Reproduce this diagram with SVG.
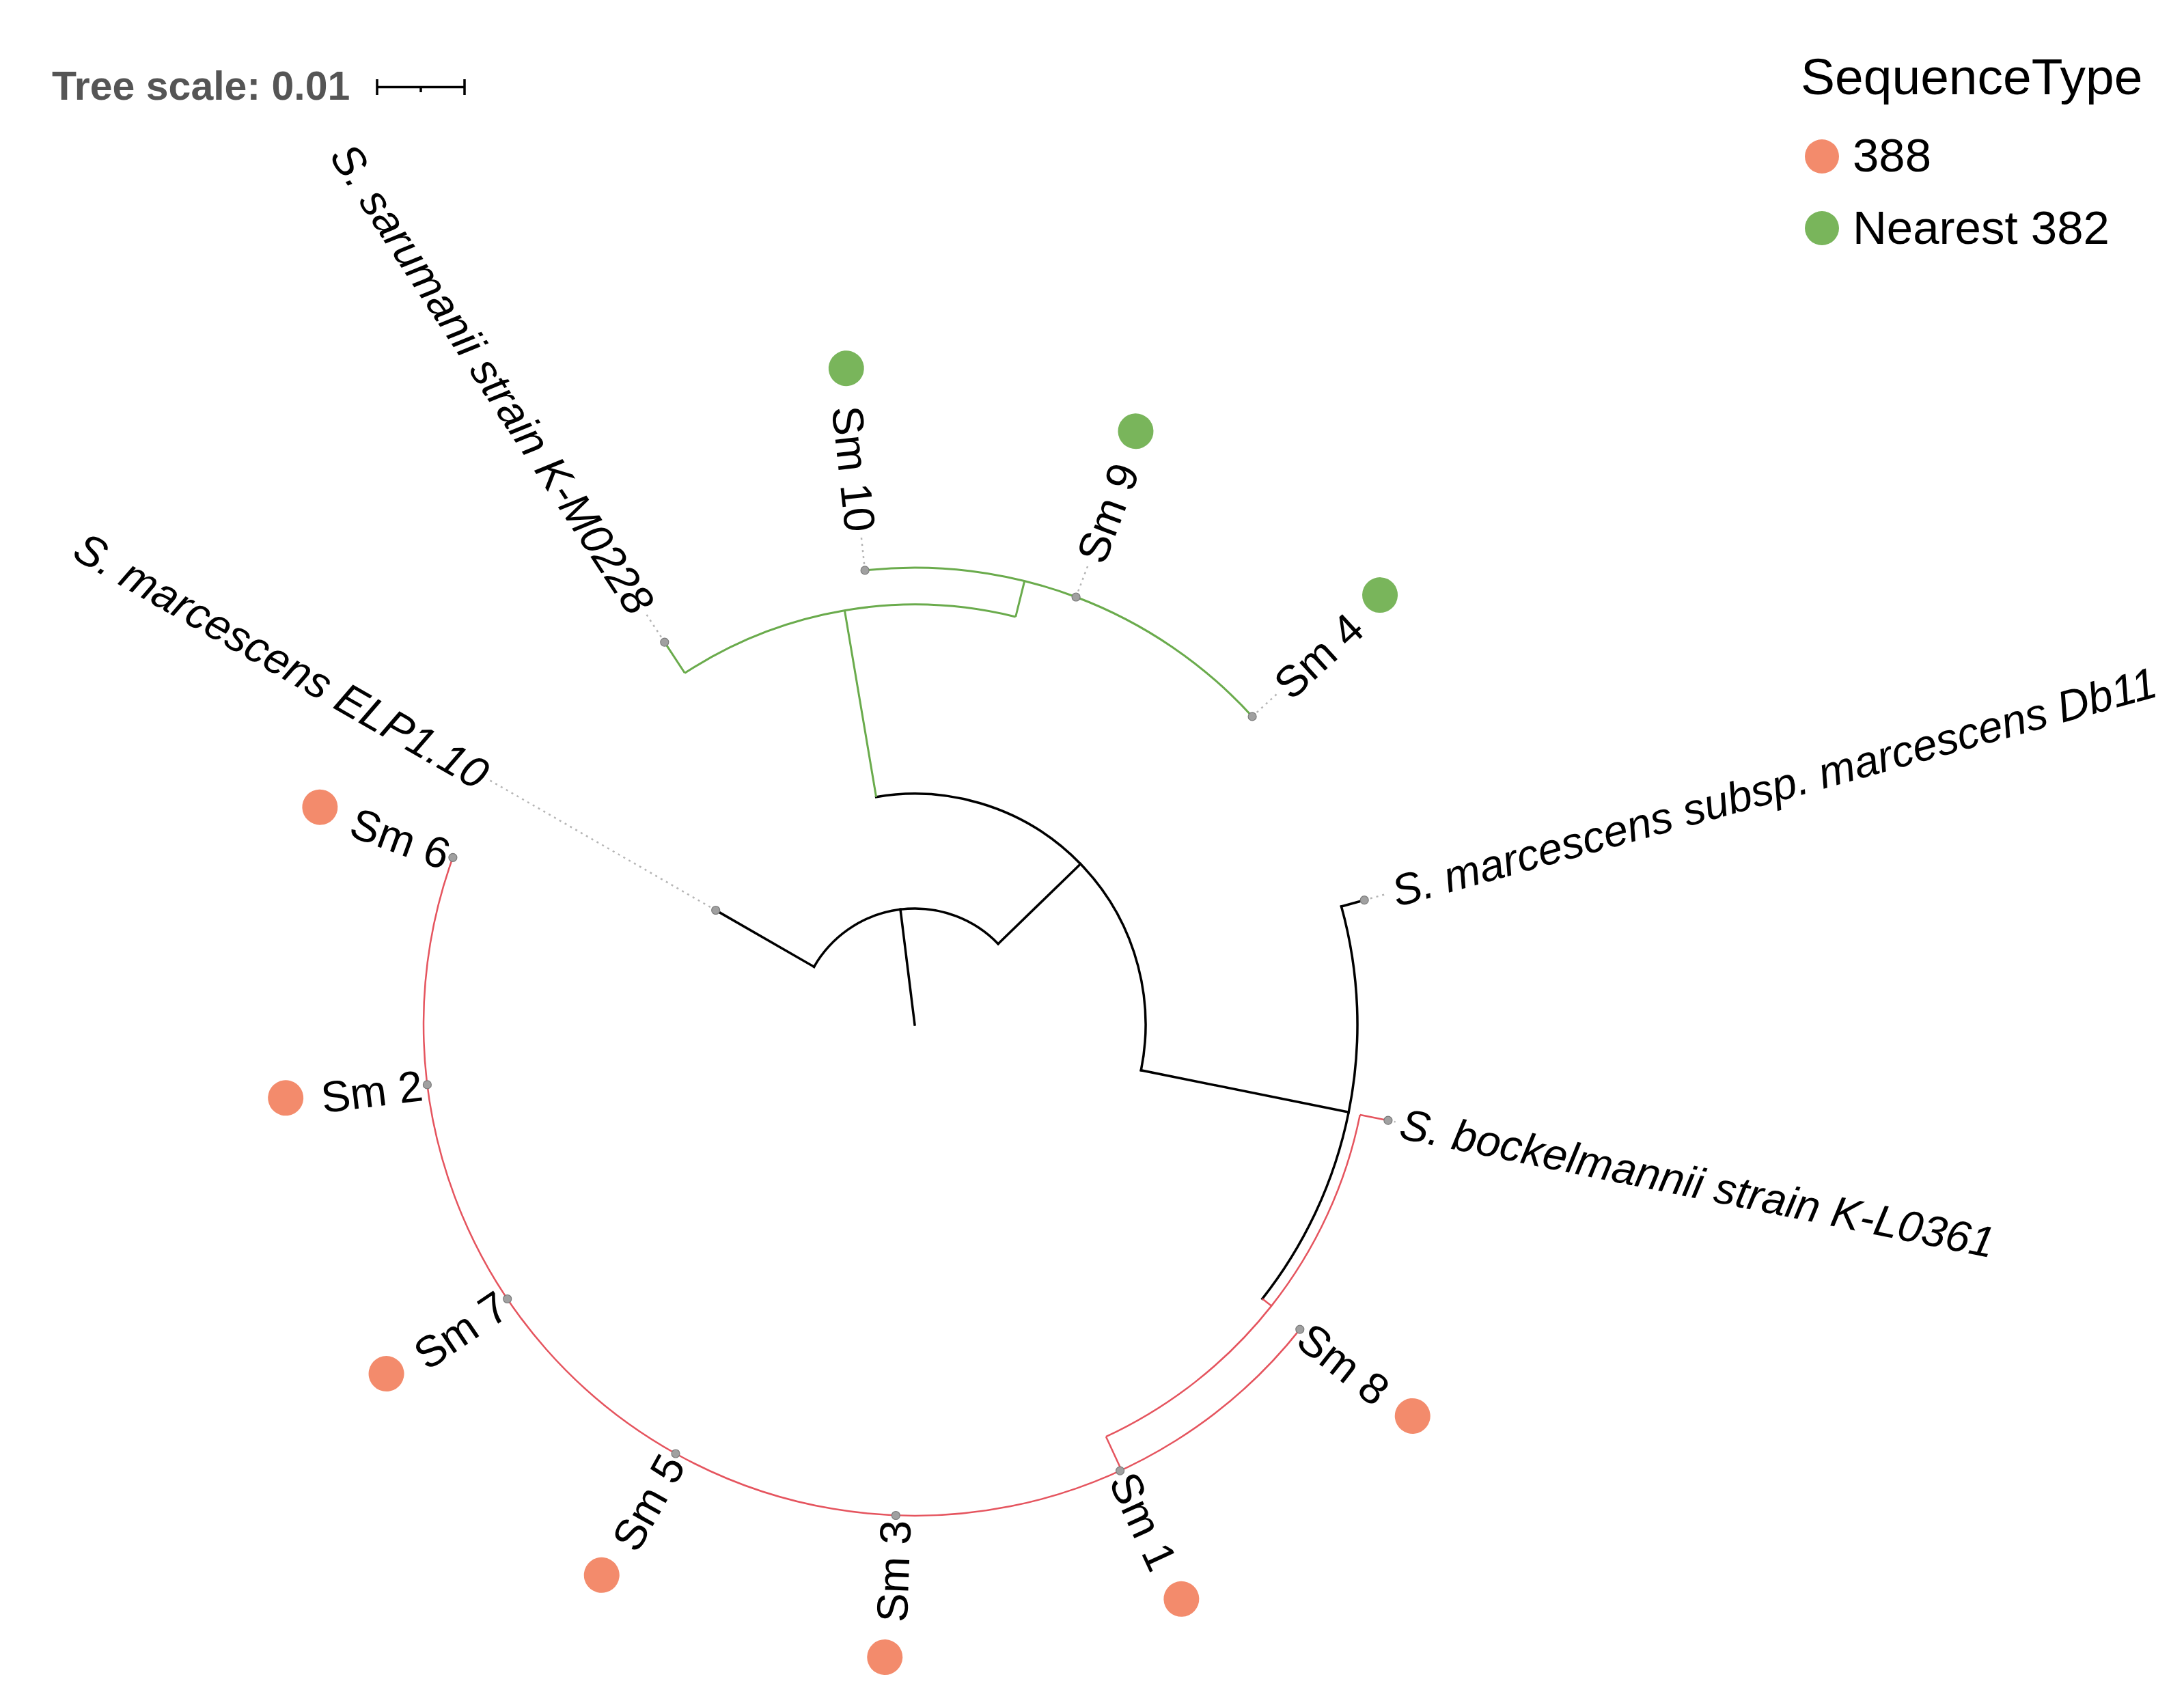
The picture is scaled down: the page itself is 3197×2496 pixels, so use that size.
<svg xmlns="http://www.w3.org/2000/svg" width="3197" height="2496" viewBox="0 0 3197 2496">
<style>
text{font-family:"Liberation Sans",Arial,sans-serif;fill:#000}
.lbl{font-size:64px}
.it{font-style:italic}
.blk{fill:none;stroke:#000;stroke-width:3.5;stroke-linecap:square}
.grn{fill:none;stroke:#6aab4c;stroke-width:3}
.red{fill:none;stroke:#e5545e;stroke-width:2.5}
.dot{fill:none;stroke:#b5b5b5;stroke-width:2.5;stroke-dasharray:3 6}
.tip{fill:#a0a0a0;stroke:#7a7a7a;stroke-width:1.2}
.o{fill:#f38b6c}
.g{fill:#79b55b}
</style>
<rect width="3197" height="2496" fill="#fff"/>

<g id="scale">
<text x="76" y="146" style="font-size:59px;font-weight:bold;fill:#555">Tree scale: 0.01</text>
<path d="M552 127.5H680M552 116V139M680 116V139M616 127.5V135" fill="none" stroke="#000" stroke-width="3.5"/>
</g>

<g id="legend">
<text x="2636" y="138" style="font-size:75px">SequenceType</text>
<circle class="o" cx="2667" cy="229" r="25"/>
<text x="2712" y="251" style="font-size:69px">388</text>
<circle class="g" cx="2667" cy="334" r="25"/>
<text x="2712" y="357" style="font-size:69px">Nearest 382</text>
</g>

<g id="connectors">
<path class="blk" d="M1339 1500L1318.0 1331.3"/>
<path class="blk" d="M1191.6 1415.3A170 170 0 0 1 1461.1 1381.7"/>
<path class="blk" d="M1191.6 1415.3L1047.7 1332.5"/>
<path class="blk" d="M1461.1 1381.7L1581.7 1264.8"/>
<path class="blk" d="M1282.6 1166.7A338 338 0 0 1 1670.3 1566.8"/>
<path class="blk" d="M1670.3 1566.8L1974.2 1628.1"/>
<path class="blk" d="M1963.5 1327.0A648 648 0 0 1 1847.8 1901.3"/>
<path class="blk" d="M1963.5 1327.0L1997.2 1317.7"/>
<path class="grn" d="M1282.6 1166.7L1236.4 893.6"/>
<path class="grn" d="M1002.4 985.3A615 615 0 0 1 1486.7 903.0"/>
<path class="grn" d="M1002.4 985.3L972.8 940.1"/>
<path class="grn" d="M1486.7 903.0L1499.7 850.6"/>
<path class="grn" d="M1266.1 834.9A669 669 0 0 1 1833.1 1048.9"/>
<path class="red" d="M1847.8 1901.3L1861.2 1911.8"/>
<path class="red" d="M1990.8 1631.9A665 665 0 0 1 1619.0 2103.2"/>
<path class="red" d="M1990.8 1631.9L2031.9 1640.2"/>
<path class="red" d="M1619.0 2103.2L1641.7 2152.2"/>
<path class="red" d="M1902.8 1946.1A719 719 0 0 1 662.9 1255.3"/>
<path class="dot" d="M1047.7 1332.5L716.6 1142.1"/>
<path class="dot" d="M972.8 940.1L946.0 899.1"/>
<path class="dot" d="M1266.1 834.9L1260.8 786.2"/>
<path class="dot" d="M1575.1 874.0L1592.4 828.2"/>
<path class="dot" d="M1833.1 1048.9L1869.2 1015.9"/>
<path class="dot" d="M1997.2 1317.7L2030.9 1308.4"/>
<path class="dot" d="M2031.9 1640.2L2042.7 1642.4"/>
</g>

<g id="leaf-ELP1.10">
<circle class="tip" cx="1047.7" cy="1332.5" r="6"/>
<text class="lbl it" transform="translate(1339 1500) rotate(29.9)" x="-726" dy="0.35em" text-anchor="end">S. marcescens ELP1.10</text>
</g>
<g id="leaf-K-M0228">
<circle class="tip" cx="972.8" cy="940.1" r="6"/>
<text class="lbl it" transform="translate(1339 1500) rotate(56.82)" x="-726" dy="0.35em" text-anchor="end">S. sarumanii strain K-M0228</text>
</g>
<g id="leaf-Sm10">
<circle class="tip" cx="1266.1" cy="834.9" r="6"/>
<text class="lbl" transform="translate(1339 1500) rotate(83.75)" x="-726" dy="0.35em" text-anchor="end">Sm 10</text>
<circle class="g" transform="translate(1339 1500) rotate(83.75)" cx="-966" cy="-5" r="26"/>
</g>
<g id="leaf-Sm9">
<circle class="tip" cx="1575.1" cy="874.0" r="6"/>
<text class="lbl" transform="translate(1339 1500) rotate(-69.33)" x="726" dy="0.35em">Sm 9</text>
<circle class="g" transform="translate(1339 1500) rotate(-69.33)" cx="927" cy="-4" r="26"/>
</g>
<g id="leaf-Sm4">
<circle class="tip" cx="1833.1" cy="1048.9" r="6"/>
<text class="lbl" transform="translate(1339 1500) rotate(-42.41)" x="726" dy="0.35em">Sm 4</text>
<circle class="g" transform="translate(1339 1500) rotate(-42.41)" cx="927" cy="-5" r="26"/>
</g>
<g id="leaf-Db11">
<circle class="tip" cx="1997.2" cy="1317.7" r="6"/>
<text class="lbl it" transform="translate(1339 1500) rotate(-15.48)" x="726" dy="0.35em">S. marcescens subsp. marcescens Db11</text>
</g>
<g id="leaf-K-L0361">
<circle class="tip" cx="2031.9" cy="1640.2" r="6"/>
<text class="lbl it" transform="translate(1339 1500) rotate(11.44)" x="726" dy="0.35em">S. bockelmannii strain K-L0361</text>
</g>
<g id="leaf-Sm8">
<circle class="tip" cx="1902.8" cy="1946.1" r="6"/>
<text class="lbl" transform="translate(1339 1500) rotate(38.36)" x="726" dy="0.35em">Sm 8</text>
<circle class="o" transform="translate(1339 1500) rotate(38.36)" cx="927" cy="-3" r="26"/>
</g>
<g id="leaf-Sm1">
<circle class="tip" cx="1639.6" cy="2153.1" r="6"/>
<text class="lbl" transform="translate(1339 1500) rotate(65.28)" x="726" dy="0.35em">Sm 1</text>
<circle class="o" transform="translate(1339 1500) rotate(65.28)" cx="927" cy="-3" r="26"/>
</g>
<g id="leaf-Sm3">
<circle class="tip" cx="1311.3" cy="2218.5" r="6"/>
<text class="lbl" transform="translate(1339 1500) rotate(-87.79)" x="-726" dy="0.35em" text-anchor="end">Sm 3</text>
<circle class="o" transform="translate(1339 1500) rotate(-87.79)" cx="-927" cy="-8" r="26"/>
</g>
<g id="leaf-Sm5">
<circle class="tip" cx="989.0" cy="2128.0" r="6"/>
<text class="lbl" transform="translate(1339 1500) rotate(-60.87)" x="-726" dy="0.35em" text-anchor="end">Sm 5</text>
<circle class="o" transform="translate(1339 1500) rotate(-60.87)" cx="-927" cy="-8" r="26"/>
</g>
<g id="leaf-Sm7">
<circle class="tip" cx="742.7" cy="1901.5" r="6"/>
<text class="lbl" transform="translate(1339 1500) rotate(-33.95)" x="-726" dy="0.35em" text-anchor="end">Sm 7</text>
<circle class="o" transform="translate(1339 1500) rotate(-33.95)" cx="-927" cy="-8" r="26"/>
</g>
<g id="leaf-Sm2">
<circle class="tip" cx="625.4" cy="1587.9" r="6"/>
<text class="lbl" transform="translate(1339 1500) rotate(-7.02)" x="-726" dy="0.35em" text-anchor="end">Sm 2</text>
<circle class="o" transform="translate(1339 1500) rotate(-7.02)" cx="-927" cy="-6" r="26"/>
</g>
<g id="leaf-Sm6">
<circle class="tip" cx="662.9" cy="1255.3" r="6"/>
<text class="lbl" transform="translate(1339 1500) rotate(19.9)" x="-726" dy="0.35em" text-anchor="end">Sm 6</text>
<circle class="o" transform="translate(1339 1500) rotate(19.9)" cx="-927" cy="-3" r="26"/>
</g>
</svg>
